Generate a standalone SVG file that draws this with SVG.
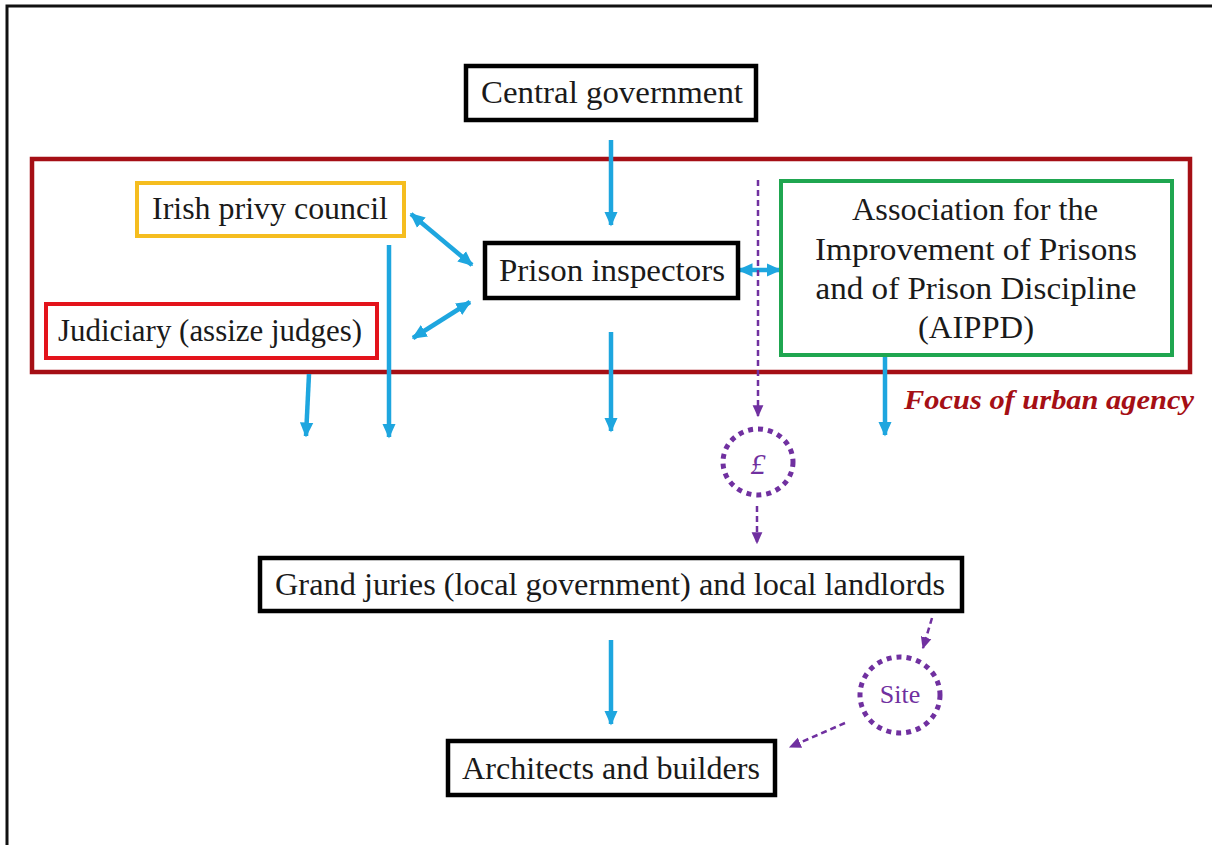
<svg xmlns="http://www.w3.org/2000/svg" width="1212" height="845" viewBox="0 0 1212 845">
<defs>
<style>
.t{font-family:"Liberation Serif","DejaVu Serif",serif;font-size:31px;fill:#1a1a1a;text-anchor:middle}
.bx{fill:#fff;stroke-width:4.5}
.blue{stroke:#1ea6df;stroke-width:4.5;fill:none}
.pur{stroke:#7030a0;stroke-width:2.5;fill:none;stroke-dasharray:6 4}
.dot{stroke:#7030a0;stroke-width:5;fill:#fff;stroke-dasharray:5 5}
</style>
<marker id="ab" viewBox="0 0 10 10" refX="9" refY="5" markerWidth="15" markerHeight="15" markerUnits="userSpaceOnUse" orient="auto-start-reverse"><path d="M0,0.5 L10,5 L0,9.5 Z" fill="#1ea6df"/></marker>
<marker id="ap" viewBox="0 0 10 10" refX="9" refY="5" markerWidth="12" markerHeight="12" markerUnits="userSpaceOnUse" orient="auto"><path d="M0,0.5 L10,5 L0,9.5 Z" fill="#7030a0"/></marker>
</defs>
<rect width="1212" height="845" fill="#fff"/>
<path d="M7,845 V6 H1212" fill="none" stroke="#111" stroke-width="3"/>

<g id="focus">
<rect x="32" y="159" width="1158" height="213" fill="none" stroke="#a50f15" stroke-width="4.5"/>
<text x="1194" y="409" textLength="290" lengthAdjust="spacingAndGlyphs" style="font-family:'Liberation Serif',serif;font-size:28px;font-weight:bold;font-style:italic;fill:#a50f15;text-anchor:end">Focus of urban agency</text>
</g>

<g id="connectors">
<line class="blue" x1="611" y1="140" x2="611" y2="225" marker-end="url(#ab)"/>
<line class="blue" x1="411" y1="214" x2="472" y2="265" marker-start="url(#ab)" marker-end="url(#ab)"/>
<line class="blue" x1="413" y1="338" x2="470" y2="302" marker-start="url(#ab)" marker-end="url(#ab)"/>
<line class="blue" x1="739" y1="270" x2="780" y2="270" marker-start="url(#ab)" marker-end="url(#ab)"/>
<line class="blue" x1="389" y1="245" x2="389" y2="437" marker-end="url(#ab)"/>
<line class="blue" x1="309" y1="374" x2="306" y2="436" marker-end="url(#ab)"/>
<line class="blue" x1="611" y1="332" x2="611" y2="431" marker-end="url(#ab)"/>
<line class="blue" x1="885" y1="349" x2="885" y2="435" marker-end="url(#ab)"/>
<line class="blue" x1="611" y1="640" x2="611" y2="724" marker-end="url(#ab)"/>
<line class="pur" x1="758" y1="180" x2="758" y2="416" marker-end="url(#ap)"/>
<line class="pur" x1="757" y1="506" x2="757" y2="543" marker-end="url(#ap)"/>
<line class="pur" x1="932" y1="618" x2="923" y2="648" marker-end="url(#ap)"/>
<line class="pur" x1="845" y1="723" x2="790" y2="747" marker-end="url(#ap)"/>
</g>

<g id="central">
<rect class="bx" x="466" y="66" width="290" height="54" stroke="#000"/>
<text class="t" x="612" y="103" textLength="262" lengthAdjust="spacingAndGlyphs">Central government</text>
</g>
<g id="privy">
<rect class="bx" x="137" y="183" width="267" height="53" stroke="#f5bd1f" style="stroke-width:4"/>
<text class="t" x="270" y="219" textLength="236" lengthAdjust="spacingAndGlyphs">Irish privy council</text>
</g>
<g id="judiciary">
<rect class="bx" x="46" y="304" width="331" height="54" stroke="#e3131b" style="stroke-width:4"/>
<text class="t" x="210" y="341" textLength="304" lengthAdjust="spacingAndGlyphs">Judiciary (assize judges)</text>
</g>
<g id="inspectors">
<rect class="bx" x="485" y="243" width="253" height="55" stroke="#000"/>
<text class="t" x="612" y="281" textLength="226" lengthAdjust="spacingAndGlyphs">Prison inspectors</text>
</g>
<g id="aippd">
<rect class="bx" x="781" y="181" width="391" height="174" stroke="#1fa650" style="stroke-width:4"/>
<text class="t" x="975" y="220" textLength="246" lengthAdjust="spacingAndGlyphs">Association for the</text>
<text class="t" x="976" y="260" textLength="322" lengthAdjust="spacingAndGlyphs">Improvement of Prisons</text>
<text class="t" x="976" y="299" textLength="321" lengthAdjust="spacingAndGlyphs">and of Prison Discipline</text>
<text class="t" x="976" y="338" textLength="116" lengthAdjust="spacingAndGlyphs">(AIPPD)</text>
</g>
<g id="money">
<ellipse class="dot" cx="758" cy="462" rx="35" ry="33"/>
<text x="758" y="474" style="font-family:'Liberation Serif',serif;font-size:30px;fill:#7030a0;text-anchor:middle;font-style:italic">£</text>
</g>
<g id="grand">
<rect class="bx" x="260" y="558" width="702" height="53" stroke="#000"/>
<text class="t" x="610" y="595" textLength="670" lengthAdjust="spacingAndGlyphs">Grand juries (local government) and local landlords</text>
</g>
<g id="site">
<ellipse class="dot" cx="900" cy="695" rx="40" ry="38"/>
<text x="900" y="703" style="font-family:'Liberation Serif',serif;font-size:26px;fill:#7030a0;text-anchor:middle">Site</text>
</g>
<g id="architects">
<rect class="bx" x="448" y="741" width="327" height="54" stroke="#000"/>
<text class="t" x="611" y="779" textLength="298" lengthAdjust="spacingAndGlyphs">Architects and builders</text>
</g>
</svg>
